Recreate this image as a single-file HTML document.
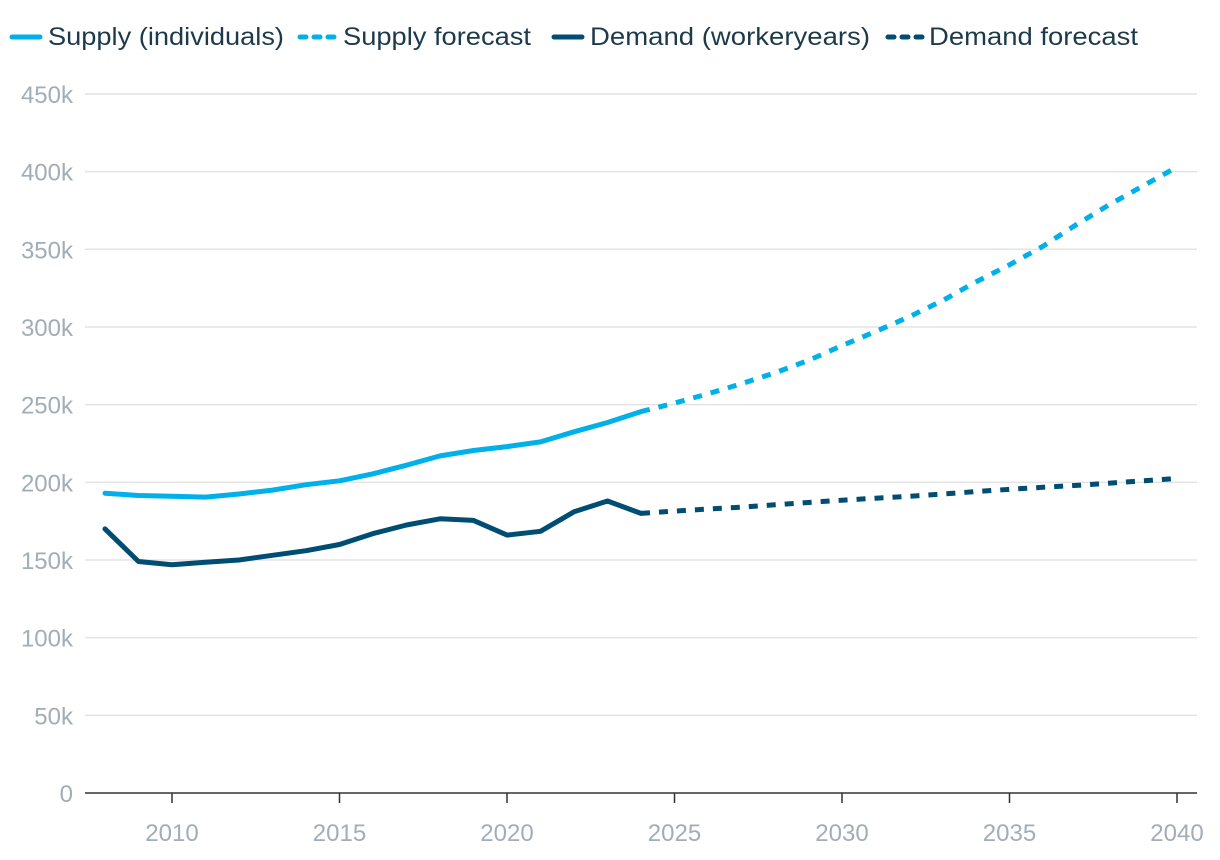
<!DOCTYPE html>
<html><head><meta charset="utf-8"><style>
body{margin:0;background:#fff;font-family:"Liberation Sans",sans-serif;}
svg{display:block}
</style></head><body>
<svg id="chart" width="1220" height="860">
<g id="legend">
 <g><line x1="12" y1="37" x2="40" y2="37" stroke="#00b0ea" stroke-width="5" stroke-linecap="round"/><text x="48" y="45" font-size="25" fill="#1d3a4a" textLength="236" lengthAdjust="spacingAndGlyphs">Supply (individuals)</text></g>
 <g><line x1="300" y1="37" x2="336" y2="37" stroke="#00b0ea" stroke-width="5" stroke-dasharray="6 8" stroke-linecap="round"/><text x="343" y="45" font-size="25" fill="#1d3a4a" textLength="188" lengthAdjust="spacingAndGlyphs">Supply forecast</text></g>
 <g><line x1="554" y1="37" x2="582" y2="37" stroke="#004d73" stroke-width="5" stroke-linecap="round"/><text x="590" y="45" font-size="25" fill="#1d3a4a" textLength="280" lengthAdjust="spacingAndGlyphs">Demand (workeryears)</text></g>
 <g><line x1="888" y1="37" x2="922" y2="37" stroke="#004d73" stroke-width="5" stroke-dasharray="6 8" stroke-linecap="round"/><text x="929" y="45" font-size="25" fill="#1d3a4a" textLength="209" lengthAdjust="spacingAndGlyphs">Demand forecast</text></g>
</g>
<g id="grid"></g><g id="series"></g>
</svg>
<script>
const yTicks=[0,50000,100000,150000,200000,250000,300000,350000,400000,450000];
const yTickLabels=["0","50k","100k","150k","200k","250k","300k","350k","400k","450k"];
const xTicks=[2010,2015,2020,2025,2030,2035,2040];
const histYears=[2008,2009,2010,2011,2012,2013,2014,2015,2016,2017,2018,2019,2020,2021,2022,2023,2024];
const supply=[193000,191500,191000,190500,192500,195000,198500,201000,205500,211000,217000,220500,223000,226000,232500,238500,245500];
const demand=[170000,149000,147000,148500,150000,153000,156000,160000,167000,172500,176500,175500,166000,168500,181000,188000,180000];
const fcYears=[2024,2025,2026,2027,2028,2029,2030,2031,2032,2033,2034,2035,2036,2037,2038,2039,2040];
const supplyFc=[245500,251000,257000,263500,270500,278500,288000,297000,306500,317000,329000,340000,352000,366000,379000,391000,403000];
const demandFc=[180000,181500,182800,184000,185500,187000,188500,189800,191000,192500,194000,195500,196800,198000,199500,201000,202500];
const NS="http://www.w3.org/2000/svg";
const x=v=>172+(v-2010)*33.5;
const y=v=>793-v/50000*77.67;
function mk(tag,attrs,parent,txt){const e=document.createElementNS(NS,tag);for(const k in attrs)e.setAttribute(k,attrs[k]);if(txt!==undefined)e.textContent=txt;parent.appendChild(e);return e;}
const grid=document.getElementById('grid');
yTicks.forEach((t,i)=>{
 if(t>0){const l=mk('line',{x1:85,x2:1197,y1:y(t),y2:y(t),stroke:'#e3e3e3','stroke-width':1.5},grid);
 
 }
 const tx=mk('text',{x:73,y:y(t)+9,'font-size':24,fill:'#a3adb5','text-anchor':'end'},grid,yTickLabels[i]);
 
 
});
const ax=mk('line',{x1:85,x2:1197,y1:793,y2:793,stroke:'#333','stroke-width':1.5},grid);


xTicks.forEach(t=>{
 const tk=mk('line',{x1:x(t),x2:x(t),y1:793,y2:803,stroke:'#333','stroke-width':1.5},grid);
 
 
 const tx=mk('text',{x:x(t),y:841,'font-size':24,fill:'#a3adb5','text-anchor':'middle'},grid,String(t));
 
 
});
const ser=document.getElementById('series');
function line(xs,vs,color,dash,name){
 const d=xs.map((v,i)=>(i?'L':'M')+x(v).toFixed(1)+','+y(vs[i]).toFixed(1)).join('');
 const p=mk('path',{d:d,fill:'none',stroke:color,'stroke-width':5,'stroke-linejoin':'round','stroke-linecap':dash?'butt':'round'},ser);
 if(dash)p.setAttribute('stroke-dasharray','9 9');
 
 
}
line(fcYears,supplyFc,'#00b0ea',true,'supply-forecast-line');
line(fcYears,demandFc,'#004d73',true,'demand-forecast-line');
line(histYears,supply,'#00b0ea',false,'supply-line');
line(histYears,demand,'#004d73',false,'demand-line');
</script>
</body></html>
